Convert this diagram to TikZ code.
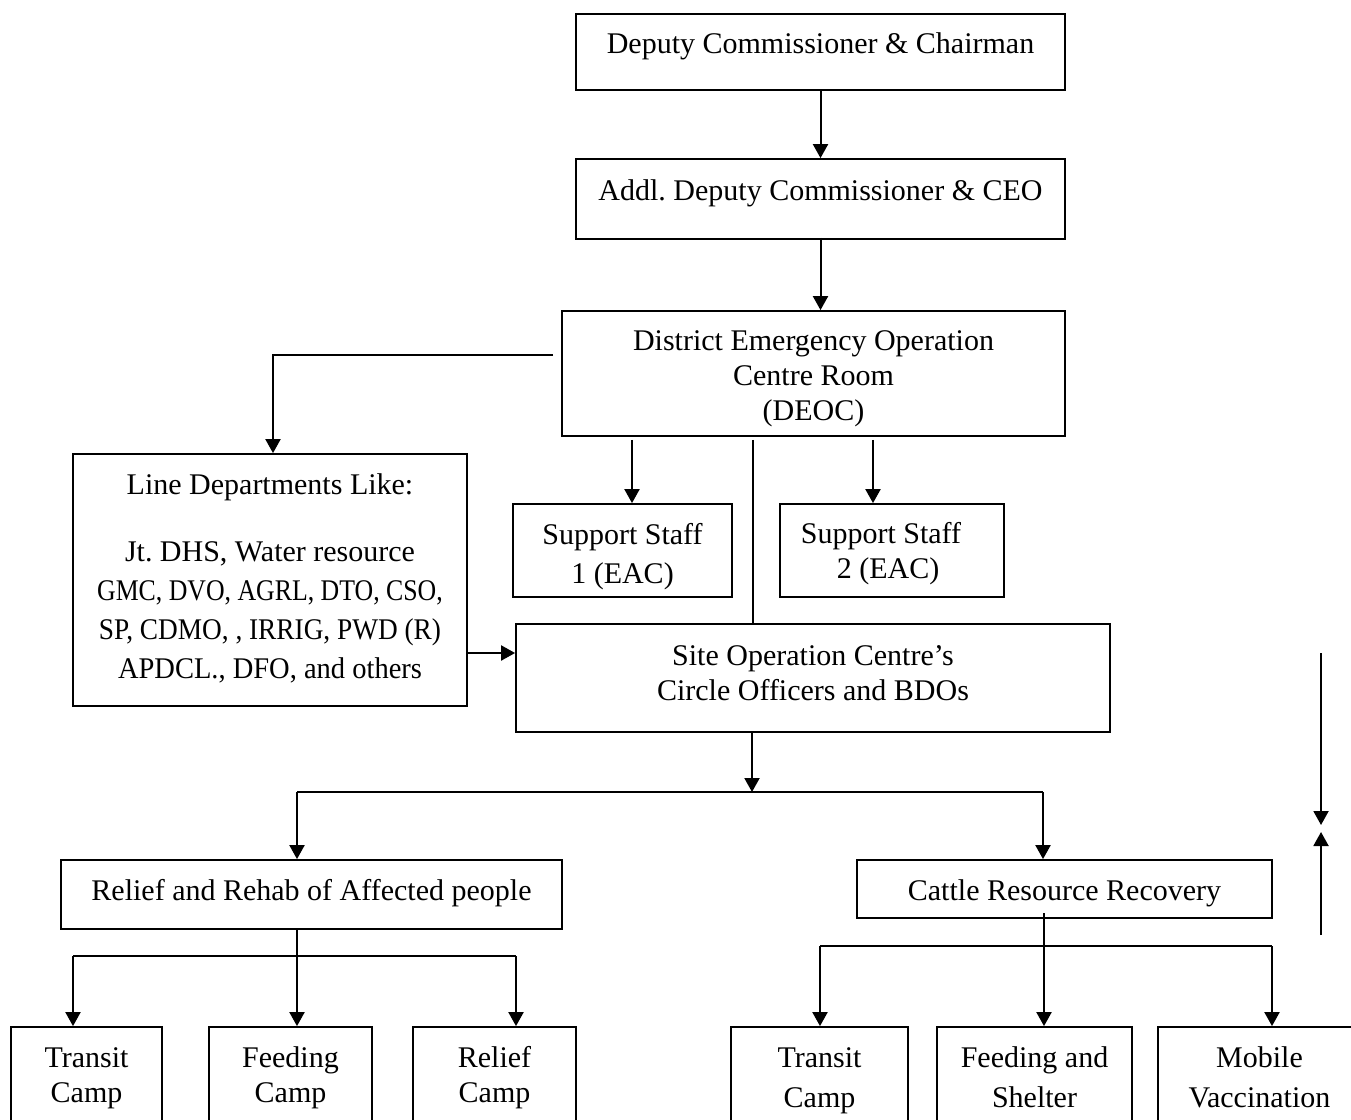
\documentclass[tikz,border=0pt]{standalone}
\usepackage{fontspec}
\setmainfont{Liberation Serif}
\usetikzlibrary{arrows.meta,calc}
\begin{document}
\begin{tikzpicture}[x=1pt,y=-1pt,
  box/.style={draw,line width=1.8pt,inner sep=0pt,rectangle},
  txt/.style={align=center,inner sep=0pt,font=\fontsize{30}{35}\selectfont\frenchspacing},
  conn/.style={line width=2pt},
  arr/.style={conn,-{Triangle[width=15pt,length=14pt]}}]
\useasboundingbox (0,0) rectangle (1351,1119);
\clip (0,0) rectangle (1351,1119);

% boxes
\node[box,minimum width=489pt,minimum height=76pt] (b1) at (820.5,52) {};
\node[txt] (b1t) at (820.5,46) {Deputy Commissioner \& Chairman};
\node[box,minimum width=489pt,minimum height=80pt] (b2) at (820.5,199) {};
\node[txt] (b2t) at (820.5,193) {Addl. Deputy Commissioner \& CEO};
\node[box,minimum width=503pt,minimum height=125pt] (deoc) at (813.5,373.5) {};
\node[txt] (deoct) at (813.5,379) {District Emergency Operation\\Centre Room\\(DEOC)};
\node[box,minimum width=394pt,minimum height=252pt] (line) at (270,580) {};
\node[txt,font=\fontsize{30}{39}\selectfont\frenchspacing] (linet) at (270,578) {Line Departments Like:\\[28pt]Jt. DHS, Water resource\\\scalebox{0.86}[1]{GMC, DVO, AGRL, DTO, CSO,}\\\scalebox{0.91}[1]{SP, CDMO, , IRRIG, PWD (R)}\\\scalebox{0.95}[1]{APDCL., DFO, and others}};
\node[box,minimum width=219pt,minimum height=93pt] (ss1) at (622.5,550.5) {};
\node[txt,font=\fontsize{30}{39}\selectfont] (ss1t) at (622.5,556.5) {Support Staff\\1 (EAC)};
\node[box,minimum width=224pt,minimum height=93pt] (ss2) at (892,550.5) {};
\node[txt] (ss2t) at (888,553.5) {Support Staff\hspace*{14pt}\\2 (EAC)};
\node[box,minimum width=594pt,minimum height=108pt] (site) at (813,678) {};
\node[txt] (sitet) at (813,673.5) {Site Operation Centre’s\\Circle Officers and BDOs};
\node[box,minimum width=501pt,minimum height=69pt] (relief) at (311.5,894.5) {};
\node[txt] (relieft) at (311.5,893) {Relief and Rehab of Affected people};
\node[box,minimum width=415pt,minimum height=58pt] (cattle) at (1064.5,889) {};
\node[txt] (cattlet) at (1064.5,893) {Cattle Resource Recovery};

\node[box,minimum width=151pt,minimum height=113pt] (t1) at (86.5,1083.5) {};
\node[txt] (t1t) at (86.5,1077.5) {\strut Transit\\Camp\strut};
\node[box,minimum width=163pt,minimum height=113pt] (f1) at (290.5,1083.5) {};
\node[txt] (f1t) at (290.5,1077.5) {\strut Feeding\\Camp\strut};
\node[box,minimum width=163pt,minimum height=113pt] (r1) at (494.5,1083.5) {};
\node[txt] (r1t) at (494.5,1077.5) {\strut Relief\\Camp\strut};
\node[box,minimum width=177pt,minimum height=113pt] (t2) at (819.5,1083.5) {};
\node[txt,font=\fontsize{30}{40}\selectfont] (t2t) at (819.5,1079) {\strut Transit\\Camp\strut};
\node[box,minimum width=195pt,minimum height=113pt] (f2) at (1034.5,1083.5) {};
\node[txt,font=\fontsize{30}{40}\selectfont] (f2t) at (1034.5,1079) {\strut Feeding and\\Shelter\strut};
\node[box,minimum width=203pt,minimum height=113pt] (m2) at (1259.5,1083.5) {};
\node[txt,font=\fontsize{30}{40}\selectfont] (m2t) at (1259.5,1079) {\strut Mobile\\Vaccination\strut};

% helper coordinates
\coordinate (xa) at (632,0);
\coordinate (xb) at (753,0);
\coordinate (xc) at (873,0);
\coordinate (ya) at (0,653);
\coordinate (yb) at (0,792);
\coordinate (xl) at (297,0);
\coordinate (xr) at (1043,0);
\coordinate (c1) at (553,355);
\coordinate (s1) at (752,792);
\coordinate (t1a) at (73,956);
\coordinate (r1a) at (516,956);
\coordinate (t2a) at (820,946);
\coordinate (m2a) at (1272,946);
\coordinate (cf) at (1044,913);
\coordinate (ra) at (1321,653);
\coordinate (rb) at (1321,825);
\coordinate (rc) at (1321,935);
\coordinate (rd) at (1321,832);

% connectors
\draw[arr] (b1.south) -- (b2.north);
\draw[arr] ([yshift=2pt]b2.south) -- (b2.south |- deoc.north);
\draw[arr] (c1) -| ([xshift=3pt]line.north);
\draw[arr] ([yshift=-3pt]deoc.south -| xa) -- (ss1.north -| xa);
\draw[conn] ([yshift=-3pt]deoc.south -| xb) -- (site.north -| xb);
\draw[arr] ([yshift=-3pt]deoc.south -| xc) -- (ss2.north -| xc);
\draw[arr] (line.east |- ya) -- (site.west |- ya);
\draw[arr] (site.south -| s1) -- (s1);
\draw[conn] (yb -| xl) -- (yb -| xr);
\draw[arr] (yb -| xl) -- (relief.north -| xl);
\draw[arr] (yb -| xr) -- (cattle.north -| xr);
\draw[arr] (relief.south -| xl) -- (f1.north -| xl);
\draw[conn] (t1a) -- (r1a);
\draw[arr] (t1a) -- (t1a |- t1.north);
\draw[arr] (r1a) -- (r1a |- r1.north);
\draw[arr] (cf) -- (cf |- f2.north);
\draw[conn] (t2a) -- (m2a);
\draw[arr] (t2a) -- (t2a |- t2.north);
\draw[arr] (m2a) -- (m2a |- m2.north);
\draw[arr] (ra) -- (rb);
\draw[arr] (rc) -- (rd);
\end{tikzpicture}
\end{document}
